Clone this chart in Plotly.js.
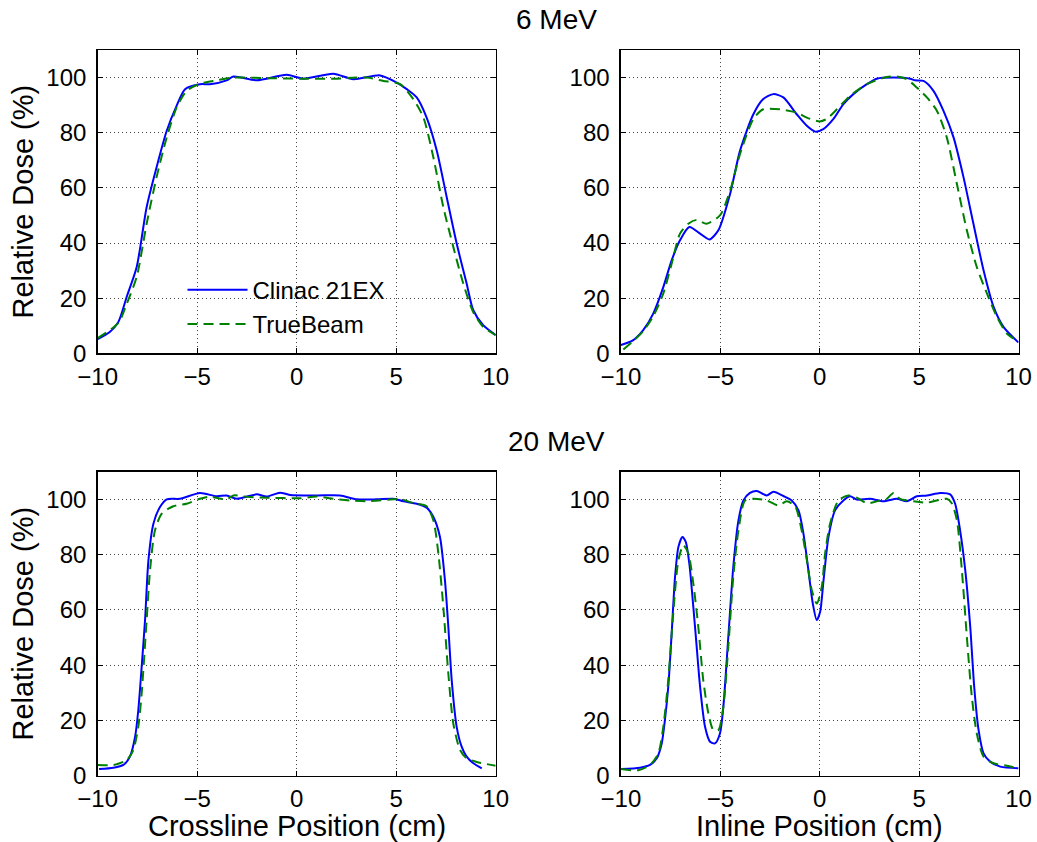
<!DOCTYPE html>
<html>
<head>
<meta charset="utf-8">
<script src="https://cdn.plot.ly/plotly-3.0.1.min.js"></script>
<style>html,body{margin:0;padding:0;background:#fff;}#chart{width:1037px;height:842px;}</style>
</head>
<body>
<div id="chart"></div>
<script>
// ---- Data ----
const seriesNames = ["Clinac 21EX", "TrueBeam"];
const panelTitles = ["6 MeV", "20 MeV"];
const xTitles = ["Crossline Position (cm)", "Inline Position (cm)"];
const yTitle = "Relative Dose (%)";
const xTicks = [-10, -5, 0, 5, 10];
const yTicks = [0, 20, 40, 60, 80, 100];

// 6 MeV crossline
const mev6CrossClinacX = [-10,-9.38,-8.96,-8.54,-8.04,-7.54,-7.04,-6.53,-6.03,-5.61,-4.86,-4.36,-3.52,-3.18,-2.0,-0.5,0.33,1.84,2.85,4.19,5.03,5.53,6.03,6.53,7.04,7.54,8.04,8.54,8.87,9.37,10];
const mev6CrossClinacY = [5.1,7.8,11.4,20.5,31.3,53,67.5,80.7,89.8,95.8,97.6,97.6,99,100.4,99,101,99.6,101.4,99.4,100.8,98.2,95.8,92.8,85.5,73.5,56.6,39.8,25.3,15.7,10.2,6.6];
const mev6CrossTrueX = [-10,-8.96,-8.54,-8.04,-7.54,-7.04,-6.53,-6.03,-5.53,-4.86,-4.02,-3.18,-1.51,0.17,1.84,3.52,4.36,5.2,5.86,6.37,6.87,7.37,7.87,8.37,8.87,9.37,10];
const mev6CrossTrueY = [5.5,11,18,27.7,47,63.9,78.3,89.2,95.2,97.8,99,100,99.8,99.6,99.6,100,98.8,97.6,92.2,85.5,71,53,38.6,25.3,15,9.6,6.6];

// 6 MeV inline
const mev6InClinacX = [-10,-9.38,-8.88,-8.37,-7.87,-7.45,-7.03,-6.56,-6.02,-5.55,-5.1,-4.51,-4.01,-3.34,-2.84,-2.33,-1.83,-1.16,-0.65,-0.23,0.18,0.69,1.19,1.69,2.37,2.87,3.71,4.55,4.8,5.22,5.72,6.22,6.73,7.23,7.73,8.24,8.74,9.24,10];
const mev6InClinacY = [3,4.8,8.4,14.5,24,33.7,41,45.8,43.4,41.3,44.6,57.8,73.5,86.7,92.2,94,92.8,86.7,82.5,80.4,81.3,85,90.4,94,97.6,99.6,100,99.6,99,98.8,95.2,88,78.3,63.9,47,30.1,16.9,9.6,3.9];
const mev6InTrueX = [-9.88,-9.38,-8.88,-8.37,-7.87,-7.45,-7.03,-6.61,-6.19,-5.69,-5.02,-4.51,-4.01,-3.34,-2.84,-2.0,-1.16,-0.65,0,0.35,0.86,1.53,2.37,3.37,3.88,4.38,4.88,5.39,5.89,6.39,6.9,7.4,7.9,8.41,8.91,9.41,10];
const mev6InTrueY = [1.4,4.5,8,13.5,21.7,32.5,43.4,47,48.4,47,50,59,72.3,85,88.5,88.5,87.3,85.5,84.1,85,88.5,93.4,97.6,100.2,100.4,99.4,96.4,92.8,88,78.3,61.4,44.6,31.3,21.7,13.3,7.2,4.2];

// 20 MeV crossline
const mev20CrossClinacX = [-9.93,-9.21,-8.71,-8.38,-8.12,-7.96,-7.79,-7.62,-7.45,-7.2,-6.87,-6.53,-5.86,-4.86,-4.02,-3.52,-3.02,-2.01,-1.51,-0.84,-0.34,1.01,2.18,3.02,4.02,4.86,5.36,6.03,6.53,6.87,7.2,7.45,7.62,7.79,8.04,8.29,8.54,8.88,9.3];
const mev20CrossClinacY = [2.4,2.9,3.9,6.9,14.1,23.7,39.4,56.3,78,91.2,97.2,100,100.2,102.3,101.1,101.4,100.2,101.8,101,102.4,101.6,101.4,101.4,100,100,100.2,99.3,98.4,97,93.6,86.4,70.7,53.9,34.6,17.7,10.5,6.9,4.5,2.7];
const mev20CrossTrueX = [-10,-9.21,-8.54,-8.21,-7.96,-7.79,-7.54,-7.37,-7.12,-6.78,-6.2,-5.53,-4.86,-4.36,-3.52,-3.18,-2.35,-1.51,0.17,1.01,1.84,2.68,3.52,4.86,5.19,5.86,6.53,6.87,7.12,7.37,7.62,7.87,8.21,8.54,9.05,10];
const mev20CrossTrueY = [3.9,3.9,5.7,9.3,17.7,29.8,56.3,74.3,88.8,94.8,97.5,98.4,100.2,101,100,101.4,100.8,100.6,100.4,101,100.2,99.6,99.3,100,100.2,98.6,97.5,92.4,80.4,61,37,18.9,9.3,6.3,5,3.6];

// 20 MeV inline
const mev20InClinacX = [-10,-9.04,-8.54,-8.2,-7.95,-7.79,-7.62,-7.45,-7.28,-7.11,-6.91,-6.74,-6.56,-6.36,-6.19,-6.02,-5.77,-5.52,-5.27,-5.02,-4.85,-4.6,-4.35,-4.09,-3.84,-3.51,-3.17,-2.67,-2.33,-1.83,-1.41,-1.07,-0.82,-0.57,-0.35,-0.15,0.02,0.19,0.44,0.77,1.19,1.53,1.86,2.53,3.2,3.88,4.38,4.88,5.39,6.06,6.56,6.81,7.06,7.32,7.57,7.77,7.99,8.24,8.57,9.08,10];
const mev20InClinacY = [2.4,2.9,3.9,6.3,11.7,20.1,32.2,51.4,71.9,82.8,86.4,84.6,76.7,61.1,46.6,32.2,17.7,12.3,11.7,15.3,24.9,50.2,75.5,92.4,99.6,102.3,103,101.4,102.7,101.2,99.6,96,87.6,74.3,62.3,56.3,59.3,70.7,86.4,96,99.6,101.1,99.9,100.2,99.3,100.2,99.3,101.1,101.4,102.3,101.8,98.4,88.8,74.3,53.9,32.2,16.5,8.1,5.1,3.3,2.7];
const mev20InTrueX = [-10,-9.13,-8.54,-8.12,-7.87,-7.62,-7.37,-7.11,-6.86,-6.61,-6.36,-6.11,-5.86,-5.6,-5.35,-5.1,-4.85,-4.6,-4.35,-4.09,-3.76,-3.34,-2.67,-2.08,-1.66,-1.24,-0.91,-0.65,-0.4,-0.15,0.1,0.27,0.52,0.94,1.44,1.86,2.37,3.04,3.37,3.71,4.04,4.71,5.39,5.89,6.39,6.64,6.9,7.15,7.4,7.65,7.9,8.24,8.74,9.41,10];
const mev20InTrueY = [2.4,2,3.9,8.1,17.7,34.6,58.7,78,83.4,80.4,69.5,53.9,34.6,22.5,16.5,16.5,24.9,46.6,71.9,88.8,99.6,100.2,99.6,97.8,99.3,97.5,88.8,78,67.1,62.3,68.3,80.4,91.2,99.6,101.4,100.6,98.6,99.6,100.2,102.3,100.2,99.3,98.8,99.6,100.2,98.6,92.4,74.3,50.2,28.6,15.3,6.9,4.5,3.6,2.7];

// ---- Styling ----
const FONT = "Liberation Sans, Arial, Helvetica, sans-serif";
const blueLine = {color: "#0000ff", width: 2, shape: "spline", smoothing: 0.7};
const greenLine = {color: "#008000", width: 2, dash: "10px,6px", shape: "spline", smoothing: 0.7};

const panels = [
  {xa: "x", ya: "y", c: [mev6CrossClinacX, mev6CrossClinacY], t: [mev6CrossTrueX, mev6CrossTrueY], legend: true},
  {xa: "x2", ya: "y2", c: [mev6InClinacX, mev6InClinacY], t: [mev6InTrueX, mev6InTrueY], legend: false},
  {xa: "x3", ya: "y3", c: [mev20CrossClinacX, mev20CrossClinacY], t: [mev20CrossTrueX, mev20CrossTrueY], legend: false},
  {xa: "x4", ya: "y4", c: [mev20InClinacX, mev20InClinacY], t: [mev20InTrueX, mev20InTrueY], legend: false}
];

const traces = [];
panels.forEach(p => {
  traces.push({type: "scatter", mode: "lines", x: p.c[0], y: p.c[1], xaxis: p.xa, yaxis: p.ya,
    name: seriesNames[0], line: blueLine, showlegend: p.legend, hoverinfo: "skip"});
  traces.push({type: "scatter", mode: "lines", x: p.t[0], y: p.t[1], xaxis: p.xa, yaxis: p.ya,
    name: seriesNames[1], line: greenLine, showlegend: p.legend, hoverinfo: "skip"});
});

const TICKSIZE = 24, TITLESIZE = 29;
function xaxis(domain, anchor) {
  return {
    domain: domain, anchor: anchor, range: [-10, 10], tickvals: xTicks, ticktext: xTicks.map(v => v < 0 ? "\u2212" + Math.abs(v) : String(v)),
    ticks: "inside", ticklen: 5, tickwidth: 1, tickcolor: "#000",
    showline: true, linecolor: "#000", linewidth: 1.5, mirror: "ticks",
    showgrid: true, gridcolor: "#444", gridwidth: 1, griddash: "1px,3px",
    zeroline: false, automargin: false, ticklabelstandoff: 1,
    tickfont: {family: FONT, size: TICKSIZE, color: "#000"}
  };
}
function yaxis(domain, anchor, title) {
  const a = {
    domain: domain, anchor: anchor, range: [0, 110], tickvals: yTicks,
    ticks: "inside", ticklen: 5, tickwidth: 1, tickcolor: "#000",
    showline: true, linecolor: "#000", linewidth: 1.5, mirror: "ticks",
    showgrid: true, gridcolor: "#444", gridwidth: 1, griddash: "1px,3px",
    zeroline: false, automargin: false, ticklabelstandoff: 5,
    tickfont: {family: FONT, size: TICKSIZE, color: "#000"}
  };
  if (title) a.title = {text: title, font: {family: FONT, size: TITLESIZE, color: "#000"}, standoff: 4};
  return a;
}

const xL = [0.0942, 0.4780], xR = [0.5988, 0.9822];
const yT = [0.5804, 0.9406], yB = [0.0787, 0.4398];

const layout = {
  width: 1037, height: 842,
  margin: {l: 0, r: 0, t: 0, b: 0},
  paper_bgcolor: "#fff", plot_bgcolor: "#fff",
  font: {family: FONT, color: "#000"},
  xaxis: xaxis(xL, "y"),
  yaxis: yaxis(yT, "x", yTitle),
  xaxis2: xaxis(xR, "y2"),
  yaxis2: yaxis(yT, "x2", null),
  xaxis3: xaxis(xL, "y3"),
  yaxis3: yaxis(yB, "x3", yTitle),
  xaxis4: xaxis(xR, "y4"),
  yaxis4: yaxis(yB, "x4", null),
  showlegend: true,
  legend: {x: 0.176, y: 0.682, xanchor: "left", yanchor: "top", bgcolor: "rgba(0,0,0,0)", borderwidth: 0,
    itemwidth: 60, font: {family: FONT, size: 24, color: "#000"}, tracegroupgap: 0},
  annotations: [
    {text: panelTitles[0], xref: "paper", yref: "paper", x: 0.537, y: 1 - 20/842, showarrow: false,
      xanchor: "center", yanchor: "middle", font: {family: FONT, size: 28, color: "#000"}},
    {text: panelTitles[1], xref: "paper", yref: "paper", x: 0.537, y: 1 - 441/842, showarrow: false,
      xanchor: "center", yanchor: "middle", font: {family: FONT, size: 28, color: "#000"}},
    {text: xTitles[0], xref: "paper", yref: "paper", x: (xL[0] + xL[1]) / 2, y: 1 - 826/842, showarrow: false,
      xanchor: "center", yanchor: "middle", font: {family: FONT, size: TITLESIZE, color: "#000"}},
    {text: xTitles[1], xref: "paper", yref: "paper", x: (xR[0] + xR[1]) / 2, y: 1 - 826/842, showarrow: false,
      xanchor: "center", yanchor: "middle", font: {family: FONT, size: TITLESIZE, color: "#000"}}
  ]
};

Plotly.newPlot("chart", traces, layout, {displayModeBar: false, staticPlot: true});
</script>
</body>
</html>
